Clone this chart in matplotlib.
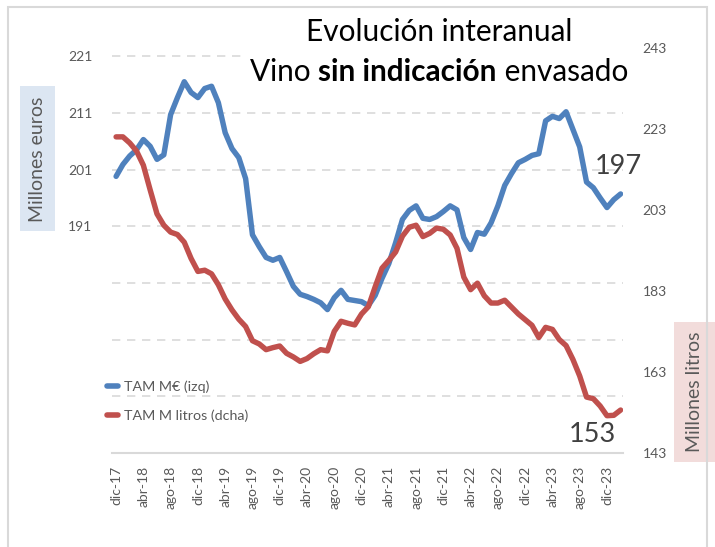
import matplotlib.pyplot as plt
from matplotlib.lines import Line2D
from matplotlib.patches import Rectangle

# TAM mensual, dic-17 a feb-24
tam_euros = [199.8, 201.9, 203.4, 204.5, 206.3, 205.1, 202.8, 203.6, 210.7, 213.7,
             216.5, 214.6, 213.7, 215.3, 215.7, 212.8, 207.5, 204.7, 203.1, 199.4,
             189.5, 187.4, 185.5, 185.0, 185.5, 183.0, 180.4, 179.0, 178.6, 178.1,
             177.5, 176.3, 178.4, 179.7, 178.1, 177.9, 177.7, 177.0, 178.8, 181.8,
             184.4, 188.1, 192.2, 193.8, 194.6, 192.4, 192.2, 192.7, 193.6, 194.6,
             193.9, 189.0, 186.9, 189.9, 189.6, 191.6, 194.6, 198.2, 200.3, 202.2,
             202.8, 203.5, 203.8, 209.6, 210.4, 210.0, 211.2, 208.1, 205.0, 198.8,
             197.8, 196.0, 194.3, 195.7, 196.7]
tam_litros = [221.0, 221.0, 219.5, 217.5, 214.0, 207.9, 202.0, 199.2, 197.5, 196.9,
              195.0, 191.0, 187.8, 188.1, 187.2, 184.5, 181.0, 178.3, 176.0, 174.2,
              170.7, 169.9, 168.5, 169.0, 169.4, 167.6, 166.7, 165.6, 166.3, 167.5,
              168.5, 168.2, 173.0, 175.5, 175.0, 174.6, 177.3, 179.1, 184.0, 188.6,
              190.5, 192.6, 196.5, 198.7, 199.2, 196.4, 197.2, 198.5, 198.2, 196.8,
              193.5, 186.4, 183.3, 184.9, 181.8, 180.0, 180.0, 180.7, 179.0, 177.3,
              175.9, 174.5, 171.5, 174.0, 173.5, 171.0, 169.5, 166.1, 162.0, 156.8,
              156.4, 154.6, 152.2, 152.3, 153.6]
etiquetas_x = ["dic-17", "abr-18", "ago-18", "dic-18", "abr-19", "ago-19", "dic-19",
               "abr-20", "ago-20", "dic-20", "abr-21", "ago-21", "dic-21", "abr-22",
               "ago-22", "dic-22", "abr-23", "ago-23", "dic-23"]
ticks_izq = [151, 161, 171, 181, 191, 201, 211, 221]
ticks_dcha = [143, 163, 183, 203, 223, 243]

plt.rcParams["font.family"] = ["Lato", "DejaVu Sans"]
gris = "#595959"
azul = "#4f81bd"
rojo = "#c0504d"

W, H = 715, 547
fig = plt.figure(figsize=(W / 100, H / 100), dpi=100)

def fx(px):
    return px / W

def fy(py):
    return 1 - py / H

ax = fig.add_axes([fx(112), fy(453), fx(623) - fx(112), fy(47.7) - fy(453)])
ax2 = ax.twinx()

x = list(range(len(tam_euros)))
ax.plot(x, tam_euros, color=azul, lw=3.9, solid_capstyle="round", solid_joinstyle="round")
ax2.plot(x, tam_litros, color=rojo, lw=3.9, solid_capstyle="round", solid_joinstyle="round")

ax.set_xlim(-0.6, 74.35)
ax.set_ylim(151, 222.5)
ax2.set_ylim(143, 243)

ax.set_xticks(x[::4])
ax.set_xticklabels(etiquetas_x, rotation=90, color=gris, fontsize=10)
ax.set_yticks(ticks_izq)
ax.set_yticklabels([str(t) if t >= 191 else "" for t in ticks_izq], color=gris, fontsize=10)
ax2.set_yticks(ticks_dcha)
ax2.set_yticklabels([str(t) for t in ticks_dcha], color=gris, fontsize=10)
ax.tick_params(axis="y", length=0, pad=14)
ax.tick_params(axis="x", length=0, pad=9)
ax2.tick_params(axis="y", length=0, pad=14)

ax.grid(axis="y", color="#d9d9d9", lw=1.2, ls=(0, (5, 4)))
for a in (ax, ax2):
    for s in a.spines.values():
        s.set_visible(False)
ax.spines["bottom"].set_visible(True)
ax.spines["bottom"].set_color("#d9d9d9")
ax.spines["bottom"].set_linewidth(1.5)

# leyenda
handles = [Line2D([], [], color=azul, lw=4, solid_capstyle="round"),
           Line2D([], [], color=rojo, lw=4, solid_capstyle="round")]
fig.legend(handles, ["TAM M€ (izq)", "TAM M litros (dcha)"], loc="upper left",
           bbox_to_anchor=(fx(94), fy(368)), frameon=False, fontsize=10.3,
           handlelength=0.8, handletextpad=0.4, labelspacing=1.1, labelcolor=gris)

# titulo
fig.text(fx(439), fy(32), "Evolución interanual", ha="center", va="center", fontsize=21.4,
         bbox=dict(facecolor="white", edgecolor="none", pad=6))
renderer = fig.canvas.get_renderer()
partes = [("Vino ", "normal"), ("sin indicación", "bold"), (" envasado", "normal")]
textos = [fig.text(0, fy(72), p, fontweight=w, ha="left", va="center", fontsize=21.4)
          for p, w in partes]
anchos = [t.get_window_extent(renderer).width for t in textos]
x0 = 439 - sum(anchos) / 2
fig.patches.append(Rectangle((fx(x0 - 6), fy(90)), fx(sum(anchos) + 12), fy(52) - fy(90),
                             transform=fig.transFigure, facecolor="white", edgecolor="none",
                             zorder=2))
for t, a in zip(textos, anchos):
    t.set_x(fx(x0))
    x0 += a

# valores finales
fig.text(fx(618), fy(166), "197", ha="center", va="center", fontsize=19.5, color="#404040")
fig.text(fx(592), fy(434), "153", ha="center", va="center", fontsize=19.5, color="#404040")

# titulos de ejes
fig.patches.append(Rectangle((fx(20), fy(231)), fx(35), fy(86) - fy(231),
                             transform=fig.transFigure, facecolor="#dce6f2", edgecolor="none"))
fig.text(fx(37.5), fy(159), "Millones euros", rotation=90, ha="center", va="center",
         fontsize=14, color=gris)
fig.patches.append(Rectangle((fx(674), fy(462)), fx(45), fy(322) - fy(462),
                             transform=fig.transFigure, facecolor="#f2dcdb", edgecolor="none"))
fig.text(fx(694), fy(392), "Millones litros", rotation=90, ha="center", va="center",
         fontsize=14, color=gris)

# borde del grafico
fig.patches.append(Rectangle((fx(8), fy(560)), fx(699), fy(7) - fy(560),
                             transform=fig.transFigure, facecolor="none",
                             edgecolor="#d9d9d9", lw=1.5))

fig.savefig("out.png", dpi=100)
